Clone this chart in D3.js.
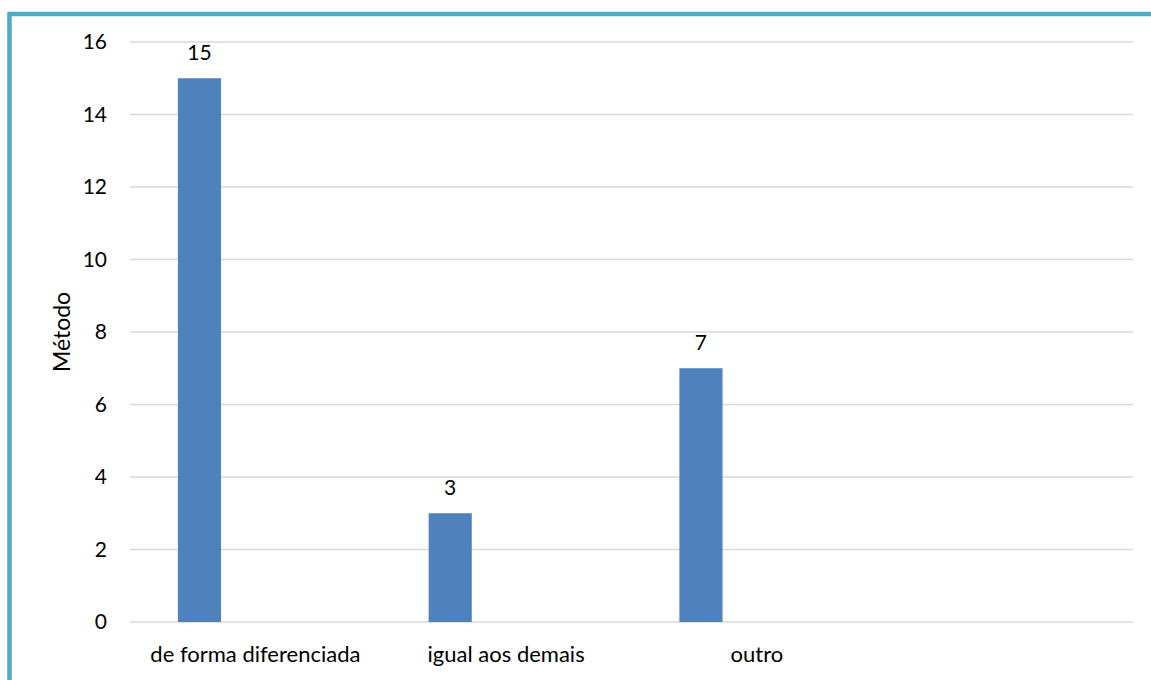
<!DOCTYPE html>
<html>
<head>
<meta charset="utf-8">
<script src="https://cdn.jsdelivr.net/npm/d3@7"></script>
<style>
  html, body { margin: 0; padding: 0; background: #fff; }
  svg { display: block; }
  text { font-family: Lato, "Open Sans", sans-serif; fill: #000; }
</style>
</head>
<body>
<svg id="chart" width="1151" height="680"></svg>
<script>
// Categories (the fourth slot is an empty category kept by the source table)
const categories = ["de forma diferenciada", "igual aos demais", "outro", ""];
const values = [15, 3, 7, null];
const yTicks = [0, 2, 4, 6, 8, 10, 12, 14, 16];
const yTitle = "Método";

const W = 1151, H = 680;
const margin = { left: 130, right: 18, top: 42, bottom: 58 };

const svg = d3.select("#chart");
svg.append("rect").attr("width", W).attr("height", H).attr("fill", "#fff");

// Frame: teal rule along the top and left edges
svg.append("path")
  .attr("d", `M9.5,680 V14 H1151`)
  .attr("fill", "none")
  .attr("stroke", "#4bacc6")
  .attr("stroke-width", 4.5);

const x = d3.scaleBand()
  .domain(categories.map((c, i) => i))
  .range([margin.left, W - margin.right])
  .padding(0);

const y = d3.scaleLinear()
  .domain([0, 16])
  .range([H - margin.bottom, margin.top]);

// Horizontal gridlines
svg.append("g")
  .selectAll("line")
  .data(yTicks)
  .join("line")
  .attr("x1", margin.left)
  .attr("x2", W - margin.right)
  .attr("y1", d => y(d))
  .attr("y2", d => y(d))
  .attr("stroke", "#d9d9d9")
  .attr("stroke-width", 1.6);

// Y axis tick labels
const yAxis = d3.axisLeft(y).tickValues(yTicks).tickSize(0).tickPadding(23);
const gy = svg.append("g")
  .attr("transform", `translate(${margin.left},0)`)
  .call(yAxis);
gy.select(".domain").remove();
gy.selectAll("text")
  .attr("font-size", 21)
  .attr("font-family", "Lato, 'Open Sans', sans-serif")
  .attr("fill", "#000");

// Axis title
svg.append("text")
  .attr("transform", `translate(70,332) rotate(-90)`)
  .attr("text-anchor", "middle")
  .attr("font-size", 23)
  .text(yTitle);

// Bars sit in the left part of each category band
const barOffset = 0.191, barWidth = 0.172;
const data = categories.map((c, i) => ({ i, c, v: values[i] })).filter(d => d.v != null);

svg.append("g")
  .selectAll("rect")
  .data(data)
  .join("rect")
  .attr("x", d => x(d.i) + x.bandwidth() * barOffset)
  .attr("width", x.bandwidth() * barWidth)
  .attr("y", d => y(d.v))
  .attr("height", d => y(0) - y(d.v))
  .attr("fill", "#4f81bd");

// Value labels above bars
svg.append("g")
  .selectAll("text")
  .data(data)
  .join("text")
  .attr("x", d => x(d.i) + x.bandwidth() * (barOffset + barWidth / 2))
  .attr("y", d => y(d.v) - 18)
  .attr("text-anchor", "middle")
  .attr("font-size", 21)
  .text(d => d.v);

// Category labels, centred on each band
svg.append("g")
  .selectAll("text")
  .data(categories.map((c, i) => ({ c, i })))
  .join("text")
  .attr("x", d => x(d.i) + x.bandwidth() / 2)
  .attr("y", 662)
  .attr("text-anchor", "middle")
  .attr("font-size", 22)
  .text(d => d.c);
</script>
</body>
</html>
